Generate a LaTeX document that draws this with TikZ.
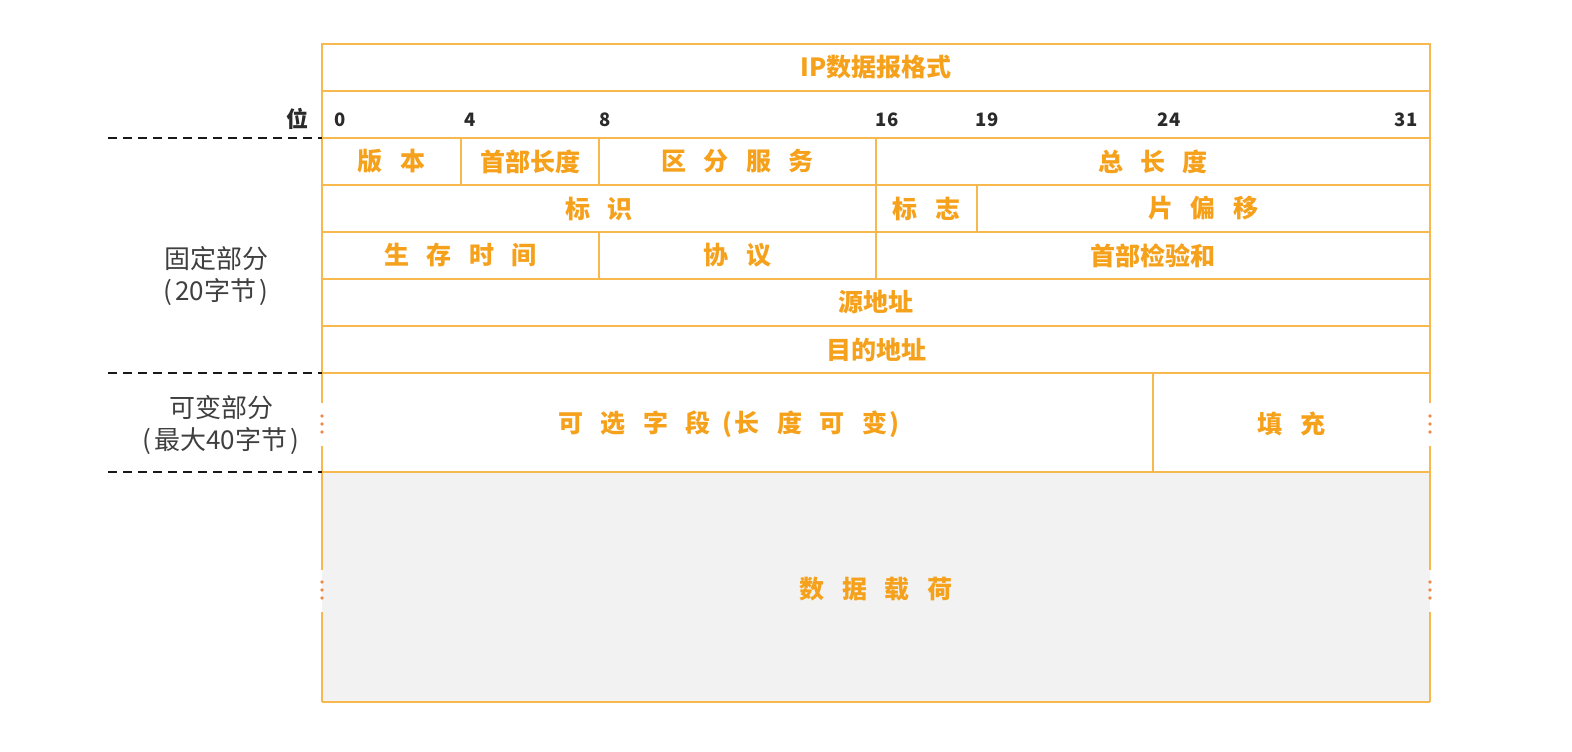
\documentclass[tikz,border=0pt]{standalone}
\usepackage{fontspec}
\setmainfont{Noto Sans CJK SC}
\definecolor{linec}{HTML}{F7B94D}
\definecolor{textc}{HTML}{F5A11C}
\definecolor{dotc}{HTML}{F08A4B}
\definecolor{payc}{HTML}{F2F2F2}
\definecolor{darkc}{HTML}{2A2A2A}
\newcommand\zg{\hspace{0.7em}}
\begin{document}
\begin{tikzpicture}[x=1pt,y=-1pt,
  cell/.style={draw=linec, line width=1.8pt, inner sep=0pt, text=textc, font=\fontsize{25}{28}\selectfont\bfseries},
  lbl/.style={inner sep=0pt, text=textc, font=\fontsize{25}{28}\selectfont\bfseries},
  num/.style={inner sep=0pt, text=darkc, font=\fontsize{18.5}{20}\selectfont\bfseries},
  side/.style={inner sep=0pt, text=darkc!90, font=\fontsize{26}{32}\selectfont, align=center},
  sep/.style={draw=black!90, line width=2.8pt, dash pattern=on 9pt off 6pt},
  frame/.style={draw=linec, line width=1.8pt}]
\useasboundingbox (0,0) rectangle (1572,752);
% payload background
\fill[payc] (322,472) rectangle (1430,702);
% title and bit rows
\node[cell, minimum width=1108pt, minimum height=47pt] (title) at (876,67.5) {IP数据报格式};
\node[cell, minimum width=1108pt, minimum height=47pt] (bits) at (876,114.5) {};
% row 1
\node[cell, minimum width=139pt, minimum height=47pt] (ver) at (391.5,161.5) {版\zg 本};
\node[cell, minimum width=138pt, minimum height=47pt] (ihl) at (530,161.5) {首部长度};
\node[cell, minimum width=277pt, minimum height=47pt] (tos) at (737.5,161.5) {区\zg 分\zg 服\zg 务};
\node[cell, minimum width=554pt, minimum height=47pt] (len) at (1153,161.5) {总\zg 长\zg 度};
% row 2
\node[cell, minimum width=554pt, minimum height=47pt] (ident) at (599,208.5) {标\zg 识};
\node[cell, minimum width=101pt, minimum height=47pt] (flags) at (926.5,208.5) {标\zg 志};
\node[cell, minimum width=453pt, minimum height=47pt] (frag) at (1203.5,208.5) {片\zg 偏\zg 移};
% row 3
\node[cell, minimum width=277pt, minimum height=47pt] (ttl) at (460.5,255.5) {生\zg 存\zg 时\zg 间};
\node[cell, minimum width=277pt, minimum height=47pt] (proto) at (737.5,255.5) {协\zg 议};
\node[cell, minimum width=554pt, minimum height=47pt] (csum) at (1153,255.5) {首部检验和};
% rows 4, 5
\node[cell, minimum width=1108pt, minimum height=47pt] (src) at (876,302.5) {源地址};
\node[cell, minimum width=1108pt, minimum height=47pt] (dst) at (876,349.5) {目的地址};
% options row and payload lines
\draw[frame] (322,472) -- (1430,472);
\draw[frame] (322,702) -- (1430,702);
\draw[frame] (1153,373) -- (1153,472);
\foreach \x in {322,1430}{
  \draw[frame] (\x,373) -- (\x,403);
  \draw[frame] (\x,446) -- (\x,570);
  \draw[frame] (\x,612) -- (\x,702);
  \foreach \y in {416,424,432,582,590,598}
    \fill[dotc] (\x,\y) circle (1.8pt);
}
\node[lbl] (opt) at (729,424) {可\zg 选\zg 字\zg 段\hspace{0.45em}(\hspace{0.1em}长\zg 度\zg 可\zg 变\hspace{0.1em})};
\node[lbl] (pad) at (1291.5,424) {填\zg 充};
\node[lbl] (data) at (876,589) {数\zg 据\zg 载\zg 荷};
% bit numbers
\node[num] (b0) at (340.5,120) {0};
\node[num] (b4) at (470,120) {4};
\node[num] (b8) at (605,120) {8};
\node[num] (b16) at (887,120) {16};
\node[num] (b19) at (987,120) {19};
\node[num] (b24) at (1169,120) {24};
\node[num] (b31) at (1406,120) {31};
\node[inner sep=0pt, text=darkc, font=\fontsize{22}{24}\selectfont\bfseries] (wei) at (297,119) {位};
% left side
\draw[sep] (108,138) -- (322,138);
\draw[sep] (108,373) -- (322,373);
\draw[sep] (108,472) -- (322,472);
\node[side] (fixed) at (216,276) {固定部分\\(\hspace{0.12em}20字节\hspace{0.12em})};
\node[side] (var) at (221,425) {可变部分\\(\hspace{0.12em}最大40字节\hspace{0.12em})};
\end{tikzpicture}
\end{document}
